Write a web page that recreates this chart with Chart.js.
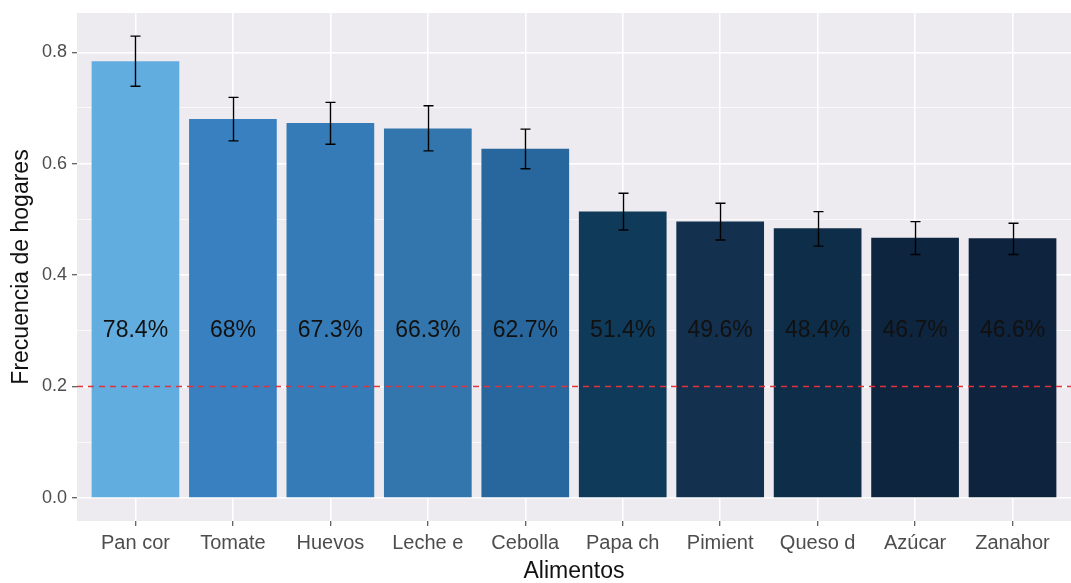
<!DOCTYPE html>
<html>
<head>
<meta charset="utf-8">
<script src="https://cdn.jsdelivr.net/npm/chart.js@4/dist/chart.umd.min.js"></script>
<style>
  html, body { margin: 0; padding: 0; background: #ffffff; }
  #wrap { width: 1071px; height: 583px; }
</style>
</head>
<body>
<div id="wrap"><canvas id="c" width="1071" height="583"></canvas></div>
<script>
const categories = ["Pan cor", "Tomate", "Huevos", "Leche e", "Cebolla", "Papa ch", "Pimient", "Queso d", "Azúcar", "Zanahor"];
const frequencies = [0.784, 0.680, 0.673, 0.663, 0.627, 0.514, 0.496, 0.484, 0.467, 0.466];
const errLow  = [0.739, 0.641, 0.635, 0.623, 0.591, 0.481, 0.463, 0.452, 0.437, 0.437];
const errHigh = [0.829, 0.719, 0.710, 0.704, 0.662, 0.547, 0.529, 0.514, 0.496, 0.493];
const pctLabels = ["78.4%", "68%", "67.3%", "66.3%", "62.7%", "51.4%", "49.6%", "48.4%", "46.7%", "46.6%"];
const barColors = ["#62ADE0", "#3880BF", "#357BB7", "#3276AD", "#28679D", "#103A5A", "#13304F", "#0D2D48", "#0E2540", "#0E233E"];
const yTickValues = [0, 0.1, 0.2, 0.3, 0.4, 0.5, 0.6, 0.7, 0.8];
const referenceLine = 0.2;
const labelY = 0.3;

const FONT = "'Liberation Sans', Arial, sans-serif";

const panelBg = {
  id: 'panelBg',
  beforeDraw(chart) {
    const {ctx, chartArea: a} = chart;
    ctx.save();
    ctx.fillStyle = '#EDEBEF';
    ctx.fillRect(a.left, a.top, a.right - a.left, a.bottom - a.top);
    ctx.restore();
  }
};

const overlays = {
  id: 'overlays',
  afterDatasetsDraw(chart) {
    const {ctx, chartArea: a} = chart;
    const xs = chart.scales.x, ys = chart.scales.y;
    ctx.save();
    // error bars
    ctx.strokeStyle = '#000000';
    ctx.lineWidth = 1.4;
    for (let i = 0; i < categories.length; i++) {
      const x = Math.round(xs.getPixelForValue(i)) + 0.5;
      const y1 = ys.getPixelForValue(errLow[i]);
      const y2 = ys.getPixelForValue(errHigh[i]);
      ctx.beginPath();
      ctx.moveTo(x, y1); ctx.lineTo(x, y2);
      ctx.moveTo(x - 5, y1); ctx.lineTo(x + 5, y1);
      ctx.moveTo(x - 5, y2); ctx.lineTo(x + 5, y2);
      ctx.stroke();
    }
    // percentage labels
    ctx.fillStyle = '#111111';
    ctx.font = '23px ' + FONT;
    ctx.textAlign = 'center';
    ctx.textBaseline = 'middle';
    for (let i = 0; i < categories.length; i++) {
      ctx.fillText(pctLabels[i], xs.getPixelForValue(i), ys.getPixelForValue(labelY));
    }
    // reference line
    const yr = Math.round(ys.getPixelForValue(referenceLine)) + 0.5;
    ctx.strokeStyle = '#E0333C';
    ctx.lineWidth = 1.3;
    ctx.setLineDash([6, 5]);
    ctx.beginPath();
    ctx.moveTo(a.left, yr); ctx.lineTo(a.right, yr);
    ctx.stroke();
    ctx.restore();
  }
};

new Chart(document.getElementById('c'), {
  type: 'bar',
  data: {
    datasets: [{
      data: frequencies.map((v, i) => ({x: i, y: v})),
      backgroundColor: barColors,
      borderWidth: 0,
      barPercentage: 0.9,
      categoryPercentage: 1.0
    }]
  },
  options: {
    responsive: false,
    animation: false,
    layout: { padding: { top: 13, right: 0, left: 0, bottom: 0 } },
    plugins: { legend: { display: false }, tooltip: { enabled: false } },
    scales: {
      x: {
        type: 'linear',
        offset: false,
        min: -0.6,
        max: categories.length - 1 + 0.6,
        afterBuildTicks(scale) { scale.ticks = categories.map((c, i) => ({value: i})); },
        afterFit(scale) { scale.height = 62; scale.paddingLeft = 0; scale.paddingRight = 0; },
        border: { display: false },
        grid: { offset: false, color: '#FFFFFF', lineWidth: 1.5, drawTicks: true, tickLength: 5, tickColor: '#333333', tickWidth: 1 },
        ticks: {
          callback: (v) => categories[v] ?? '',
          color: '#4D4D4D',
          font: { family: FONT, size: 20 },
          padding: 5,
          maxRotation: 0,
          autoSkip: false
        },
        title: {
          display: true, text: 'Alimentos', color: '#111111',
          font: { family: FONT, size: 23, lineHeight: 1 },
          padding: { top: 0, bottom: 0 }
        }
      },
      y: {
        type: 'linear',
        min: -0.0415,
        max: 0.8705,
        afterBuildTicks(scale) { scale.ticks = yTickValues.map(v => ({value: v})); },
        afterFit(scale) { scale.width = 77; scale.paddingTop = 0; scale.paddingBottom = 0; },
        border: { display: false },
        grid: {
          color: '#FFFFFF',
          lineWidth: (ctx) => (Math.round(ctx.tick.value * 10) % 2 === 0 ? 1.5 : 0.7),
          drawTicks: true,
          tickLength: 5,
          tickColor: (ctx) => (Math.round(ctx.tick.value * 10) % 2 === 0 ? '#333333' : 'rgba(0,0,0,0)'),
          tickWidth: 1
        },
        ticks: {
          callback: (v) => (Math.round(v * 10) % 2 === 0 ? v.toFixed(1) : ''),
          color: '#4D4D4D',
          font: { family: FONT, size: 18 },
          padding: 5,
          autoSkip: false
        },
        title: {
          display: true, text: 'Frecuencia de hogares', color: '#111111',
          font: { family: FONT, size: 23, lineHeight: 1 },
          padding: { top: 10, bottom: 0 }
        }
      }
    }
  },
  plugins: [panelBg, overlays]
});
</script>
</body>
</html>
